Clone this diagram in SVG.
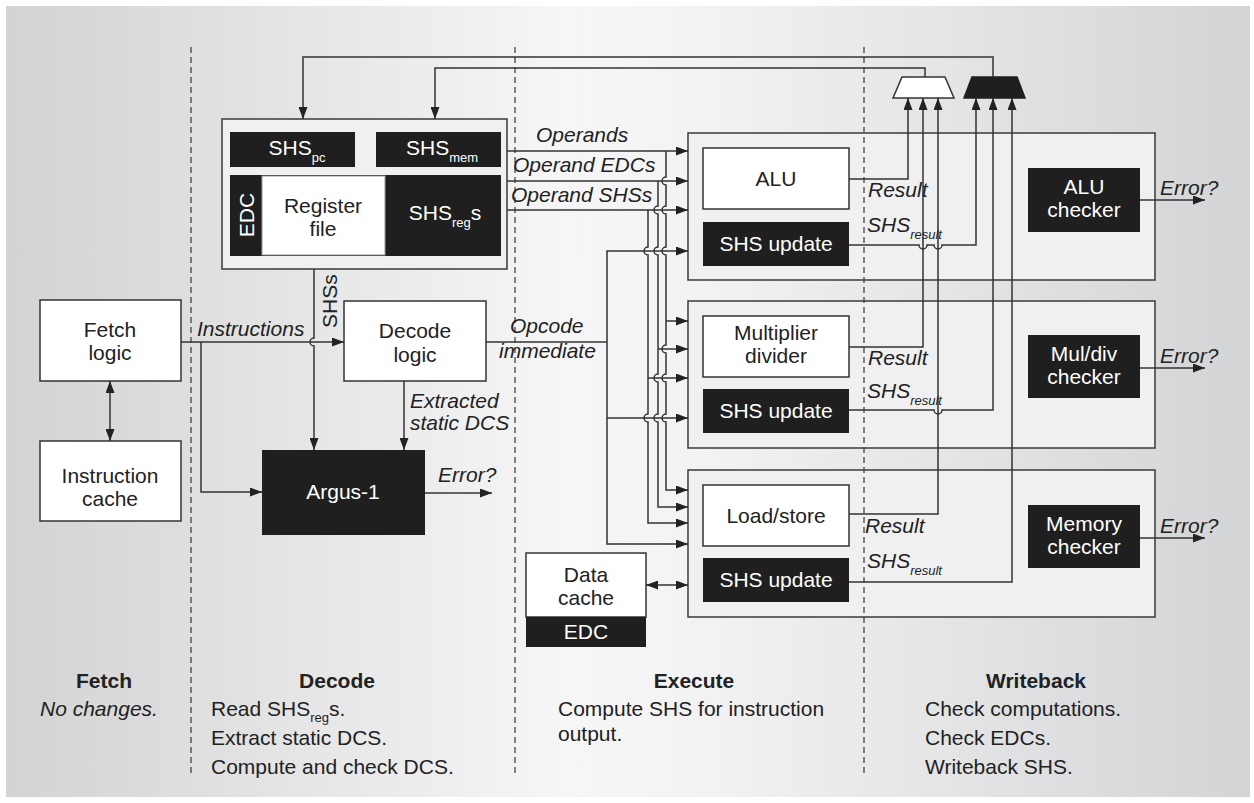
<svg xmlns="http://www.w3.org/2000/svg" width="1254" height="803" viewBox="0 0 1254 803">
<defs>
<linearGradient id="bg" x1="0" y1="0" x2="1" y2="0">
<stop offset="0" stop-color="#d3d3d3"/>
<stop offset="0.45" stop-color="#f6f6f6"/>
<stop offset="0.55" stop-color="#f3f3f3"/>
<stop offset="1" stop-color="#d3d4d6"/>
</linearGradient>
<marker id="ah" viewBox="0 0 12 9" refX="12" refY="4.5" markerWidth="12" markerHeight="9" markerUnits="userSpaceOnUse" orient="auto-start-reverse"><path d="M0,0 L12,4.5 L0,9 z" fill="#222"/></marker>
<style>
.box{fill:#fff;stroke:#333;stroke-width:1.5}
.panel{fill:#f0f0f0;stroke:#3a3a3a;stroke-width:1.5}
.blk{fill:#1f1f1f}
.t{font-family:"Liberation Sans",Arial,sans-serif;font-size:21px;fill:#222}
.tw{fill:#fff}
.it{font-style:italic}
.b{font-weight:bold}
.c{text-anchor:middle}
.sub{font-size:13px}
.ln{fill:none;stroke:#333;stroke-width:1.5}
.arr{marker-end:url(#ah)}
.dbl{marker-start:url(#ah);marker-end:url(#ah)}
.dash{fill:none;stroke:#444;stroke-width:1.3;stroke-dasharray:6 4}
</style>
</defs>
<rect x="6" y="6" width="1244" height="791" fill="url(#bg)"/>

<g id="alu-stage"><rect class="panel" x="688" y="133" width="467" height="147"/></g>
<g id="muldiv-stage"><rect class="panel" x="688" y="301" width="467" height="147"/></g>
<g id="mem-stage"><rect class="panel" x="688" y="470" width="467" height="147"/></g>

<g id="stage-dividers">
<line class="dash" x1="191" y1="47" x2="191" y2="775"/>
<line class="dash" x1="515" y1="47" x2="515" y2="775"/>
<line class="dash" x1="864" y1="47" x2="864" y2="775"/>
</g>

<g id="fetch-logic"><rect class="box" x="40" y="300" width="141" height="81"/>
<text class="t c" x="110" y="337">Fetch</text><text class="t c" x="110" y="360">logic</text></g>
<g id="instruction-cache"><rect class="box" x="40" y="441" width="141" height="80"/>
<text class="t c" x="110" y="483">Instruction</text><text class="t c" x="110" y="506">cache</text></g>

<g id="register-block">
<rect class="panel" x="222" y="119" width="285" height="150"/>
<rect class="blk" x="230" y="132" width="125" height="35"/>
<text class="t tw c" x="297" y="155">SHS<tspan class="sub" dy="7">pc</tspan></text>
<rect class="blk" x="376" y="132" width="125" height="35"/>
<text class="t tw c" x="442" y="155">SHS<tspan class="sub" dy="7">mem</tspan></text>
<rect class="blk" x="230" y="175" width="271" height="81"/>
<rect x="262" y="176" width="123" height="79" fill="#fff" stroke="#999" stroke-width="1"/>
<text class="t c" x="323" y="213">Register</text><text class="t c" x="323" y="236">file</text>
<text class="t tw c" x="254" y="215" transform="rotate(-90 254 215)">EDC</text>
<text class="t tw c" x="445" y="220">SHS<tspan class="sub" dy="7">reg</tspan><tspan dy="-7">s</tspan></text>
</g>

<g id="decode-logic"><rect class="box" x="344" y="301" width="142" height="80"/>
<text class="t c" x="415" y="338">Decode</text><text class="t c" x="415" y="362">logic</text></g>
<g id="argus-1"><rect class="blk" x="262" y="450" width="163" height="85"/>
<text class="t tw c" x="343" y="499">Argus-1</text></g>

<g id="alu"><rect class="box" x="703" y="148" width="146" height="61"/><text class="t c" x="776" y="186">ALU</text></g>
<g id="alu-shs-update"><rect class="blk" x="703" y="222" width="146" height="44"/><text class="t tw c" x="776" y="251">SHS update</text></g>
<g id="multiplier-divider"><rect class="box" x="703" y="316" width="146" height="61"/><text class="t c" x="776" y="340">Multiplier</text><text class="t c" x="776" y="363">divider</text></g>
<g id="muldiv-shs-update"><rect class="blk" x="703" y="389" width="146" height="44"/><text class="t tw c" x="776" y="418">SHS update</text></g>
<g id="load-store"><rect class="box" x="703" y="485" width="146" height="61"/><text class="t c" x="776" y="523">Load/store</text></g>
<g id="mem-shs-update"><rect class="blk" x="703" y="558" width="146" height="44"/><text class="t tw c" x="776" y="587">SHS update</text></g>

<g id="alu-checker"><rect class="blk" x="1028" y="168" width="112" height="64"/><text class="t tw c" x="1084" y="194">ALU</text><text class="t tw c" x="1084" y="217">checker</text></g>
<g id="muldiv-checker"><rect class="blk" x="1028" y="335" width="112" height="63"/><text class="t tw c" x="1084" y="361">Mul/div</text><text class="t tw c" x="1084" y="384">checker</text></g>
<g id="memory-checker"><rect class="blk" x="1028" y="505" width="112" height="63"/><text class="t tw c" x="1084" y="531">Memory</text><text class="t tw c" x="1084" y="554">checker</text></g>

<g id="data-cache"><rect class="box" x="526" y="553" width="120" height="64"/>
<text class="t c" x="586" y="582">Data</text><text class="t c" x="586" y="605">cache</text>
<rect class="blk" x="526" y="617" width="120" height="30"/><text class="t tw c" x="586" y="639">EDC</text></g>

<g id="mux-white"><polygon points="902,77 945,77 954,98 893,98" fill="#fff" stroke="#333" stroke-width="1.5"/></g>
<g id="mux-black"><polygon points="972,77 1017,77 1025,98 964,98" fill="#1f1f1f" stroke="#1f1f1f" stroke-width="1.5"/></g>

<g id="connectors">
<path class="ln dbl" d="M110,381 V441"/>
<path class="ln arr" d="M181,342 H344"/>
<path class="ln arr" d="M201,342 V492 H262"/>
<path class="ln arr" d="M314,269 V338 A4,4 0 0 0 314,346 V450"/>
<path class="ln arr" d="M404,381 V450"/>
<path class="ln arr" d="M425,493 H492"/>
<path class="ln arr" d="M993,77 V57 H303 V119"/>
<path class="ln arr" d="M925,77 V68 H435 V119"/>
<path class="ln arr" d="M507,151 H688"/>
<path class="ln arr" d="M507,181 H688"/>
<path class="ln arr" d="M507,210 H688"/>
<path class="ln arr" d="M666,151 V177 A4,4 0 0 0 666,185 V206 A4,4 0 0 0 666,214 V247 A4,4 0 0 0 666,255 V345 A4,4 0 0 0 666,353 V374 A4,4 0 0 0 666,382 V414 A4,4 0 0 0 666,422 V490 H688"/>
<path class="ln arr" d="M666,321 H688"/>
<path class="ln arr" d="M658,181 V206 A4,4 0 0 0 658,214 V247 A4,4 0 0 0 658,255 V374 A4,4 0 0 0 658,382 V414 A4,4 0 0 0 658,422 V507 H688"/>
<path class="ln arr" d="M658,349 H688"/>
<path class="ln arr" d="M648,210 V247 A4,4 0 0 0 648,255 V414 A4,4 0 0 0 648,422 V523 H688"/>
<path class="ln arr" d="M648,378 H688"/>
<path class="ln" d="M486,342 H607"/>
<path class="ln arr" d="M607,342 V251 H688"/>
<path class="ln arr" d="M607,342 V544 H688"/>
<path class="ln arr" d="M607,418 H688"/>
<path class="ln dbl" d="M646,585 H688"/>
<path class="ln arr" d="M849,179 H908 V98"/>
<path class="ln arr" d="M849,347 H923 V98"/>
<path class="ln arr" d="M849,514 H938 V98"/>
<path class="ln arr" d="M849,245 H919 A4,4 0 0 0 927,245 H934 A4,4 0 0 0 942,245 H976 V98"/>
<path class="ln arr" d="M849,410 H934 A4,4 0 0 0 942,410 H993 V98"/>
<path class="ln arr" d="M849,582 H1012 V98"/>
<path class="ln arr" d="M1140,200 H1205"/>
<path class="ln arr" d="M1140,368 H1205"/>
<path class="ln arr" d="M1140,538 H1205"/>
</g>

<g id="labels">
<text class="t it" x="197" y="336">Instructions</text>
<text class="t" x="337" y="328" transform="rotate(-90 337 328)">SHSs</text>
<text class="t it" x="410" y="408">Extracted</text>
<text class="t it" x="410" y="430">static DCS</text>
<text class="t it" x="438" y="482">Error?</text>
<text class="t it" x="536" y="142">Operands</text>
<text class="t it" x="513" y="172">Operand EDCs</text>
<text class="t it" x="511" y="202">Operand SHSs</text>
<text class="t it" x="510" y="333">Opcode</text>
<text class="t it" x="499" y="358">immediate</text>
<text class="t it" x="868" y="197">Result</text>
<text class="t it" x="867" y="232">SHS<tspan class="sub" dy="7">result</tspan></text>
<text class="t it" x="868" y="365">Result</text>
<text class="t it" x="867" y="398">SHS<tspan class="sub" dy="7">result</tspan></text>
<text class="t it" x="865" y="533">Result</text>
<text class="t it" x="867" y="568">SHS<tspan class="sub" dy="7">result</tspan></text>
<text class="t it" x="1160" y="195">Error?</text>
<text class="t it" x="1160" y="363">Error?</text>
<text class="t it" x="1160" y="533">Error?</text>
</g>

<g id="stage-notes">
<text class="t b c" x="104" y="688">Fetch</text>
<text class="t it" x="40" y="716">No changes.</text>
<text class="t b c" x="337" y="688">Decode</text>
<text class="t" x="211" y="716">Read SHS<tspan class="sub" dy="6">reg</tspan><tspan dy="-6">s.</tspan></text>
<text class="t" x="211" y="745">Extract static DCS.</text>
<text class="t" x="211" y="774">Compute and check DCS.</text>
<text class="t b c" x="694" y="688">Execute</text>
<text class="t" x="558" y="716">Compute SHS for instruction</text>
<text class="t" x="558" y="741">output.</text>
<text class="t b c" x="1036" y="688">Writeback</text>
<text class="t" x="925" y="716">Check computations.</text>
<text class="t" x="925" y="745">Check EDCs.</text>
<text class="t" x="925" y="774">Writeback SHS.</text>
</g>
</svg>
